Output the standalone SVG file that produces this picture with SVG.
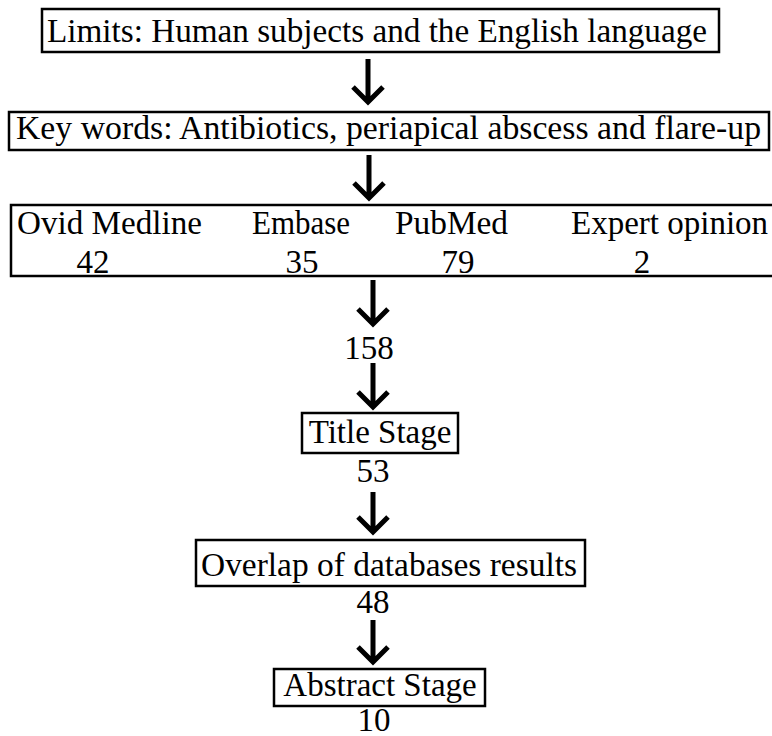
<svg xmlns="http://www.w3.org/2000/svg" width="772" height="736" viewBox="0 0 772 736">
<style>
.box{fill:#fff;stroke:#000;stroke-width:2.5}
.t{font-family:'Liberation Serif','DejaVu Serif','Times New Roman',Times,serif;font-size:33px;fill:#000}
.c{text-anchor:middle}
.arr{fill:none;stroke:#000;stroke-width:5}
</style>
<rect width="772" height="736" fill="#fff"/>
<g id="limits">
<rect class="box" x="42" y="9" width="677" height="43"/>
<text class="t" x="47" y="42" textLength="660" lengthAdjust="spacingAndGlyphs">Limits: Human subjects and the English language</text>
</g>
<g id="keywords">
<rect class="box" x="9" y="112" width="760" height="38"/>
<text class="t" x="16" y="139" textLength="745" lengthAdjust="spacingAndGlyphs">Key words: Antibiotics, periapical abscess and flare-up</text>
</g>
<g id="databases">
<rect class="box" x="11" y="205" width="775" height="71"/>
<text class="t" x="17" y="234" textLength="185" lengthAdjust="spacingAndGlyphs">Ovid Medline</text>
<text class="t" x="252" y="234" textLength="98" lengthAdjust="spacingAndGlyphs">Embase</text>
<text class="t" x="395" y="234" textLength="113" lengthAdjust="spacingAndGlyphs">PubMed</text>
<text class="t" x="571" y="234">Expert opinion</text>
<text class="t c" x="93" y="273">42</text>
<text class="t c" x="302" y="273">35</text>
<text class="t c" x="458" y="273">79</text>
<text class="t c" x="642" y="273">2</text>
</g>
<g id="n158">
<text class="t c" x="369" y="359">158</text>
</g>
<g id="title">
<rect class="box" x="302" y="413" width="156" height="40"/>
<text class="t c" x="380" y="443">Title Stage</text>
<text class="t c" x="373" y="482">53</text>
</g>
<g id="overlap">
<rect class="box" x="196" y="540" width="389" height="46"/>
<text class="t" x="201" y="576" textLength="376" lengthAdjust="spacingAndGlyphs">Overlap of databases results</text>
<text class="t c" x="373" y="613">48</text>
</g>
<g id="abstract">
<rect class="box" x="274" y="669" width="211" height="37"/>
<text class="t c" x="380" y="696">Abstract Stage</text>
<text class="t c" x="374" y="731">10</text>
</g>
<g id="connectors" class="arr">
<path d="M368 59V101M353 87L368 102L383 87"/>
<path d="M369 155V197M354 183L369 198L384 183"/>
<path d="M373 280V323M358 309L373 324L388 309"/>
<path d="M373 363V406M358 392L373 407L388 392"/>
<path d="M373 492V531M358 517L373 532L388 517"/>
<path d="M373 620V661M358 647L373 662L388 647"/>
</g>
</svg>
